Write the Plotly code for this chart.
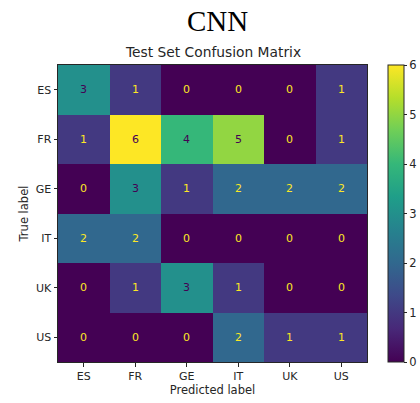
import plotly.graph_objects as go

# Confusion matrix for the CNN classifier on the test set
classes = ["ES", "FR", "GE", "IT", "UK", "US"]
row_es = [3, 1, 0, 0, 0, 1]
row_fr = [1, 6, 4, 5, 0, 1]
row_ge = [0, 3, 1, 2, 2, 2]
row_it = [2, 2, 0, 0, 0, 0]
row_uk = [0, 1, 3, 1, 0, 0]
row_us = [0, 0, 0, 2, 1, 1]
matrix = [row_es, row_fr, row_ge, row_it, row_uk, row_us]
colorbar_ticks = [0, 1, 2, 3, 4, 5, 6]

W, H = 420, 403
L, R, T, B = 58, 53, 65, 41
pw, ph = W - L - R, H - T - B

def px_x(p):
    return (p - L) / pw

def px_y(p):
    return (H - B - p) / ph

zmax = max(max(r) for r in matrix)
zmin = min(min(r) for r in matrix)
thresh = (zmax + zmin) / 2.0
light, dark = "#fde725", "#440154"
ink = "#262626"
tick_font = dict(family="DejaVu Sans", size=11, color=ink)

fig = go.Figure(
    go.Heatmap(
        z=matrix,
        x=classes,
        y=classes,
        colorscale="Viridis",
        zmin=zmin,
        zmax=zmax,
        colorbar=dict(
            x=px_x(388),
            xanchor="left",
            y=0,
            yanchor="bottom",
            len=1,
            lenmode="fraction",
            thickness=16,
            thicknessmode="pixels",
            outlinewidth=1,
            outlinecolor=ink,
            tickmode="array",
            tickvals=colorbar_ticks,
            ticks="outside",
            ticklen=3,
            tickcolor=ink,
            tickfont=dict(family="DejaVu Sans", size=11.5, color=ink),
            xpad=0,
            ypad=0,
        ),
        hoverinfo="skip",
    )
)

annotations = []
for i, true_cls in enumerate(classes):
    for j, pred_cls in enumerate(classes):
        v = matrix[i][j]
        annotations.append(
            dict(
                x=pred_cls,
                y=true_cls,
                xref="x",
                yref="y",
                text=str(v),
                showarrow=False,
                font=dict(family="DejaVu Sans", size=11,
                          color=dark if v >= thresh else light),
            )
        )

annotations.append(dict(
    x=px_x(217), y=px_y(21), xref="paper", yref="paper",
    text="CNN", showarrow=False, xanchor="center", yanchor="middle",
    font=dict(family="Liberation Serif", size=29, color="#000000"),
))
annotations.append(dict(
    x=0.5, y=px_y(52), xref="paper", yref="paper",
    text="Test Set Confusion Matrix", showarrow=False,
    xanchor="center", yanchor="middle",
    font=dict(family="DejaVu Sans", size=13.8, color=ink),
))

fig.update_layout(
    width=W,
    height=H,
    margin=dict(l=L, r=R, t=T, b=B, pad=0, autoexpand=False),
    paper_bgcolor="white",
    plot_bgcolor="white",
    annotations=annotations,
    font=dict(family="DejaVu Sans", size=11, color=ink),
)

axis_common = dict(
    showline=True,
    linecolor=ink,
    linewidth=1,
    mirror=True,
    ticks="outside",
    ticklen=3.5,
    tickcolor=ink,
    showgrid=False,
    zeroline=False,
    automargin=False,
    tickfont=tick_font,
)

fig.update_xaxes(
    title=dict(text="Predicted label", standoff=3,
               font=dict(family="DejaVu Sans", size=11.5, color=ink)),
    **axis_common,
)
fig.update_yaxes(
    title=dict(text="True label", standoff=4,
               font=dict(family="DejaVu Sans", size=11.5, color=ink)),
    autorange="reversed",
    **axis_common,
)

fig.write_html("out.html")
